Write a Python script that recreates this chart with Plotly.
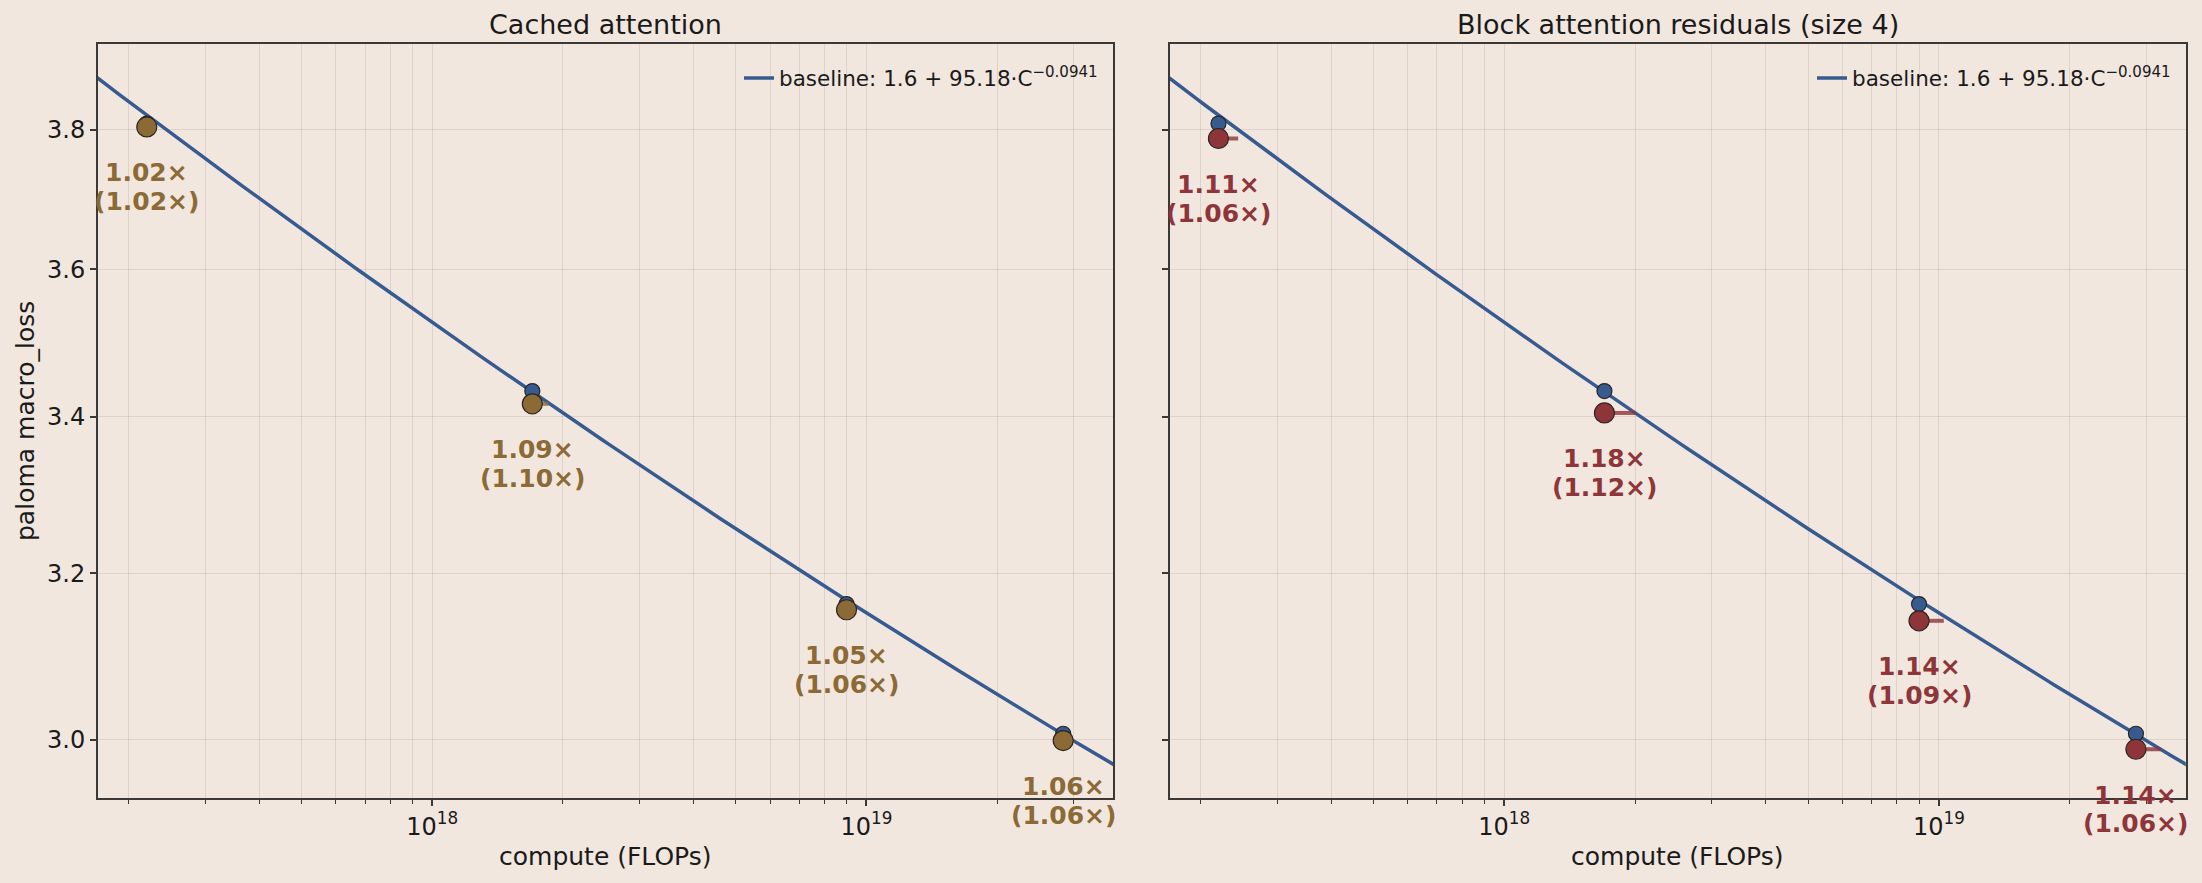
import numpy as np
import plotly.graph_objects as go

# ---------------- data ----------------
compute = [2.2e17, 1.7e18, 9.0e18, 2.84e19]
baseline_loss = [3.809, 3.434, 3.162, 3.007]
cached_loss = [3.804, 3.417, 3.155, 2.999]
block_loss = [3.787, 3.405, 3.1415, 2.989]
cached_mult = [1.02, 1.09, 1.05, 1.06]
cached_mult_adj = [1.02, 1.10, 1.06, 1.06]
block_mult = [1.11, 1.18, 1.14, 1.14]
block_mult_adj = [1.06, 1.12, 1.09, 1.06]

fit_E, fit_A, fit_alpha = 1.6, 95.18, 0.0941

panel_titles = ["Cached attention", "Block attention residuals (size 4)"]
x_major = [1e18, 1e19]
x_major_text = ["10<sup>18</sup>", "10<sup>19</sup>"]
x_minor = [k * 10.0 ** e for e in (17, 18, 19) for k in range(2, 10)]
y_ticks = [3.0, 3.2, 3.4, 3.6, 3.8]
y_tick_text = ["3.0", "3.2", "3.4", "3.6", "3.8"]

# ---------------- style ----------------
BG = "#F1E7DF"
GRID = "rgba(60,40,20,0.10)"
AXC = "#3b3835"
BLUE = "#375B90"
RED = "#8E3539"
BROWN = "#8C6A35"
RED_SEG = "rgba(142,53,57,0.8)"
BROWN_SEG = "rgba(140,106,53,0.8)"
FONT = "DejaVu Sans"
W, H = 2202, 883

x_range = [17.230, 19.568]
y_range = [np.log10(2.9334), np.log10(3.9278)]
dom1 = [98 / W, 1113 / W]
dom2 = [1169.6 / W, 2185.8 / W]
ydom = [(H - 797.7) / H, (H - 44.3) / H]

fig = go.Figure()

fit_x = np.logspace(17.0, 19.8, 200)
fit_y = fit_E + fit_A * fit_x ** (-fit_alpha)
legend_name = f"baseline: {fit_E} + {fit_A}·C<sup>−{fit_alpha}</sup>"

panels = [
    ("x", "y", cached_loss, cached_mult, cached_mult_adj, BROWN, BROWN_SEG, "legend"),
    ("x2", "y2", block_loss, block_mult, block_mult_adj, RED, RED_SEG, "legend2"),
]

annotations = []
for i, (xa, ya, loss, mult, mult_adj, col, segcol, leg) in enumerate(panels):
    fig.add_trace(go.Scatter(x=fit_x, y=fit_y, mode="lines", xaxis=xa, yaxis=ya,
                             line=dict(color=BLUE, width=3.5), name=legend_name,
                             legend=leg, showlegend=True, hoverinfo="skip"))
    fig.add_trace(go.Scatter(x=compute, y=baseline_loss, mode="markers", xaxis=xa, yaxis=ya,
                             marker=dict(size=15, color=BLUE, line=dict(color="#2a2622", width=1.2)),
                             showlegend=False))
    sx, sy = [], []
    for c, l, m in zip(compute, loss, mult):
        sx += [c, c * m, None]
        sy += [l, l, None]
    fig.add_trace(go.Scatter(x=sx, y=sy, mode="lines", xaxis=xa, yaxis=ya,
                             line=dict(color=segcol, width=4), showlegend=False))
    fig.add_trace(go.Scatter(x=compute, y=loss, mode="markers", xaxis=xa, yaxis=ya,
                             marker=dict(size=20, color=col, line=dict(color="#2a2622", width=1.2)),
                             showlegend=False))
    for c, l, m, ma in zip(compute, loss, mult, mult_adj):
        for txt, shift in ((f"{m:.2f}×", -46), (f"({ma:.2f}×)", -74.5)):
            annotations.append(dict(x=np.log10(c), y=np.log10(l), xref=xa, yref=ya,
                                    text=f"<b>{txt}</b>", showarrow=False,
                                    xanchor="center", yanchor="middle", yshift=shift,
                                    font=dict(family=FONT, size=25, color=col)))
    dom = dom1 if i == 0 else dom2
    annotations.append(dict(x=(dom[0] + dom[1]) / 2, y=1 - 25 / H, xref="paper", yref="paper",
                            text=panel_titles[i], showarrow=False, xanchor="center", yanchor="middle",
                            font=dict(family=FONT, size=27, color="#1a1a1a")))
    annotations.append(dict(x=(dom[0] + dom[1]) / 2, y=(H - 856) / H, xref="paper", yref="paper",
                            text="compute (FLOPs)", showarrow=False, xanchor="center", yanchor="middle",
                            font=dict(family=FONT, size=25, color="#1a1a1a")))

annotations.append(dict(x=25 / W, y=(ydom[0] + ydom[1]) / 2, xref="paper", yref="paper",
                        text="paloma macro_loss", showarrow=False, textangle=-90,
                        xanchor="center", yanchor="middle",
                        font=dict(family=FONT, size=25, color="#1a1a1a")))

def xaxis(dom, anchor):
    return dict(type="log", domain=dom, range=x_range, anchor=anchor,
                tickmode="array", tickvals=x_major, ticktext=x_major_text,
                ticks="outside", ticklen=6, tickwidth=1.5, tickcolor=AXC,
                showgrid=True, gridcolor=GRID, gridwidth=1.4,
                minor=dict(tickmode="array", tickvals=x_minor, ticks="outside", ticklen=4,
                           tickwidth=1.2, tickcolor=AXC, showgrid=True, gridcolor=GRID, gridwidth=1.4),
                showline=True, linecolor=AXC, linewidth=2, mirror=True, zeroline=False,
                tickfont=dict(family=FONT, size=24, color="#1a1a1a"))

def yaxis(anchor, labels):
    return dict(type="log", domain=ydom, range=y_range, anchor=anchor,
                tickmode="array", tickvals=y_ticks, ticktext=y_tick_text,
                showticklabels=labels,
                ticks="outside", ticklen=6, tickwidth=1.5, tickcolor=AXC,
                showgrid=True, gridcolor=GRID, gridwidth=1.4,
                showline=True, linecolor=AXC, linewidth=2, mirror=True, zeroline=False,
                tickfont=dict(family=FONT, size=24, color="#1a1a1a"))

leg_common = dict(bgcolor="rgba(0,0,0,0)", borderwidth=0, xanchor="right", yanchor="middle",
                  font=dict(family=FONT, size=21.5, color="#1a1a1a"), itemwidth=30)

fig.update_layout(
    width=W, height=H, autosize=False,
    margin=dict(l=0, r=0, t=0, b=0),
    paper_bgcolor=BG, plot_bgcolor=BG,
    xaxis=xaxis(dom1, "y"), yaxis=yaxis("x", True),
    xaxis2=xaxis(dom2, "y2"), yaxis2=yaxis("x2", False),
    legend=dict(x=1103 / W, y=1 - 78 / H, **leg_common),
    legend2=dict(x=2176 / W, y=1 - 78 / H, **leg_common),
    annotations=annotations,
    showlegend=True,
)

fig.write_html("out.html")
